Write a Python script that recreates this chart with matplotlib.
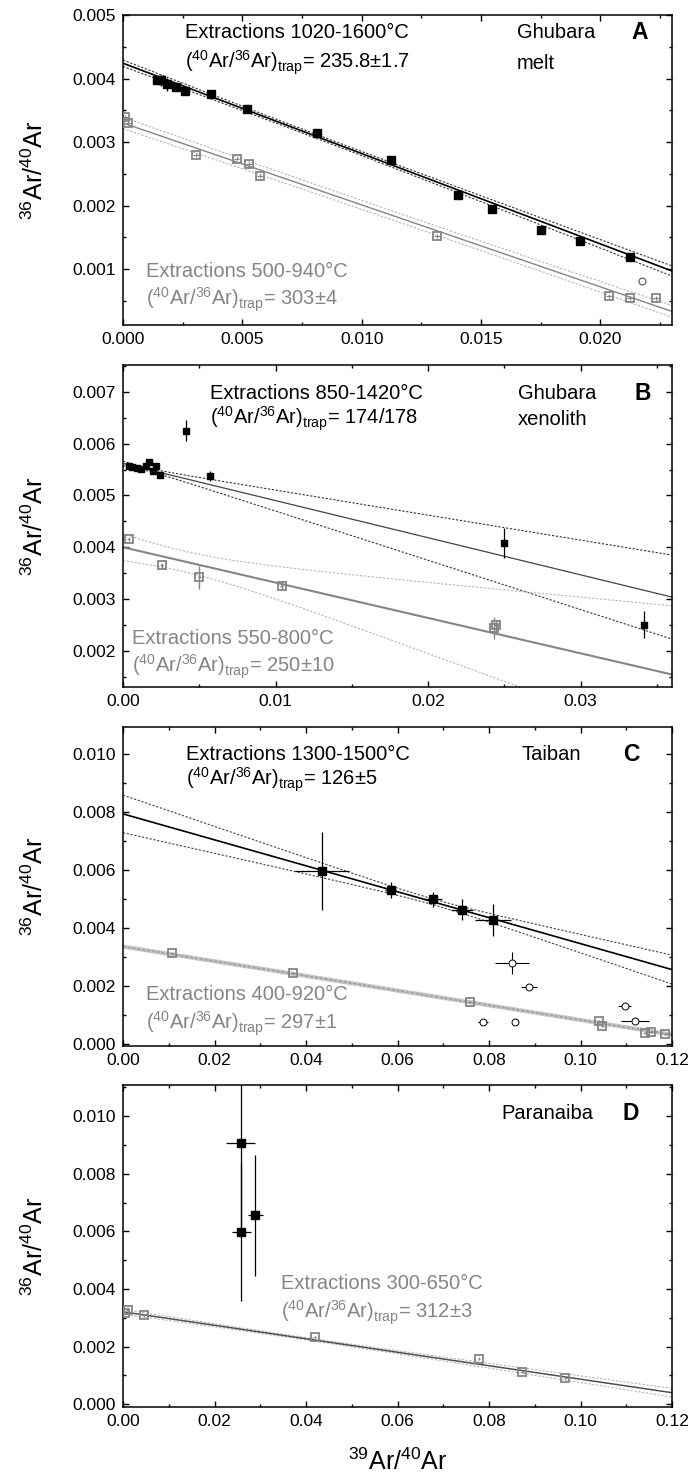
import numpy as np
import matplotlib
matplotlib.use('Agg')
import matplotlib.pyplot as plt
from matplotlib.ticker import MultipleLocator, FormatStrFormatter

plt.rcParams['font.family'] = ['Liberation Sans', 'DejaVu Sans']
plt.rcParams['mathtext.fontset'] = 'custom'
plt.rcParams['mathtext.rm'] = 'Liberation Sans'
plt.rcParams['mathtext.it'] = 'Liberation Sans:italic'
plt.rcParams['mathtext.bf'] = 'Liberation Sans:bold'

GRAY = '#858585'
LGRAY = '#b5b5b5'
TXT = 14.5

# ---------------- Panel A : Ghubara melt ----------------
a_hi_x = [0.00141, 0.00159, 0.00184, 0.00221, 0.00258, 0.00369, 0.00521, 0.00811,
          0.01124, 0.01404, 0.01546, 0.01753, 0.01914, 0.02124]
a_hi_y = [0.00398, 0.00397, 0.00391, 0.00387, 0.00381, 0.00375, 0.00352, 0.00315,
          0.00271, 0.00216, 0.00194, 0.00161, 0.00145, 0.00119]
a_hi_yerr = [0.00005, 0.00009, 0.00010, 0.00005, 0.00005, 0.00004, 0.00004, 0.00004,
             0.00004, 0.00004, 0.00004, 0.00003, 0.00003, 0.00003]
a_lo_x = [0.00007, 0.00021, 0.00306, 0.00476, 0.00527, 0.00575, 0.01317, 0.02035,
          0.02124, 0.02234]
a_lo_y = [0.00339, 0.00330, 0.00279, 0.00274, 0.00266, 0.00247, 0.00152, 0.00057,
          0.00055, 0.00055]
a_out_x = [0.02173]
a_out_y = [0.00082]
# fit: intercept, slope, band constant, band slope term, band centre
a_hi_fit = [1 / 235.8, -0.1422, 3.1e-5, 0.0049, 0.008]
a_lo_fit = [1 / 303.0, -0.1290, 7.0e-5, 0.0050, 0.011]

# ---------------- Panel B : Ghubara xenolith ----------------
b_hi_x = [0.00042, 0.00062, 0.00092, 0.00115, 0.00149, 0.00172, 0.00195, 0.00219,
          0.00242, 0.00413, 0.00569, 0.02501, 0.03414]
b_hi_y = [0.00556, 0.00555, 0.00553, 0.00551, 0.00557, 0.00564, 0.00548, 0.00556,
          0.00540, 0.00625, 0.00538, 0.00409, 0.00250]
b_hi_yerr = [0.00003, 0.00003, 0.00003, 0.00003, 0.00003, 0.00004, 0.00003, 0.00003,
             0.00003, 0.00020, 0.00010, 0.00029, 0.00026]
b_lo_x = [0.00039, 0.00254, 0.00500, 0.01040, 0.02430, 0.02445]
b_lo_y = [0.00416, 0.00365, 0.00342, 0.00325, 0.00244, 0.00249]
b_lo_yerr = [0.00004, 0.00005, 0.00022, 0.00006, 0.00021, 0.00010]
b_hi_fit = [1 / 178.0, -0.0717, 3.0e-5, 0.0235, 0.0015]
b_lo_fit = [1 / 250.0, -0.0683, 2.0e-4, 0.0410, 0.004]

# ---------------- Panel C : Taiban ----------------
c_hi_x = [0.0435, 0.0585, 0.0677, 0.0741, 0.0809]
c_hi_y = [0.00597, 0.00531, 0.00499, 0.00464, 0.00428]
c_hi_xerr = [0.0059, 0.0012, 0.0020, 0.0025, 0.0040]
c_hi_yerr = [0.00135, 0.00028, 0.00026, 0.00036, 0.00054]
c_lo_x = [0.01077, 0.0371, 0.0759, 0.1040, 0.1048, 0.1141, 0.1154, 0.1184]
c_lo_y = [0.00313, 0.00244, 0.00144, 0.00080, 0.00063, 0.00040, 0.00042, 0.00034]
c_op_x = [0.0851, 0.0888, 0.0787, 0.0857, 0.1097, 0.1119]
c_op_y = [0.00280, 0.00198, 0.00077, 0.00077, 0.00132, 0.00079]
c_op_xerr = [0.0037, 0.0017, 0.0010, 0.0, 0.0014, 0.0030]
c_op_yerr = [0.00037, 0.0, 0.0, 0.0, 0.0, 0.0]
c_hi_fit = [1 / 126.0, -0.0447, 1.0e-4, 0.0094, 0.068]
c_lo_fit = [1 / 297.0, -0.0253, 3.0e-5, 0.0004, 0.05]

# ---------------- Panel D : Paranaiba ----------------
d_hi_x = [0.0257, 0.0259, 0.0289]
d_hi_y = [0.00905, 0.00597, 0.00656]
d_hi_xerr = [0.0031, 0.0021, 0.0016]
d_hi_yerr = [0.0032, 0.0024, 0.0021]
d_lo_x = [0.0005, 0.0010, 0.0045, 0.0419, 0.0778, 0.0873, 0.0967]
d_lo_y = [0.00318, 0.00326, 0.00308, 0.00232, 0.00158, 0.00112, 0.00091]
d_lo_fit = [1 / 312.0, -0.0234, 4.0e-5, 0.0018, 0.04]

fig = plt.figure(figsize=(6.89, 14.81), dpi=100)
L, W = 123 / 689, 549 / 689
H = 1481
boxes = [(15, 325), (365, 687), (727, 1046), (1085, 1407)]
axes = [fig.add_axes([L, 1 - b / H, W, (b - t) / H]) for t, b in boxes]


def style(ax, xlim, ylim, xmaj, xmin, ymaj, ymin, xfmt, yfmt):
    ax.set_xlim(*xlim)
    ax.set_ylim(*ylim)
    ax.xaxis.set_major_locator(MultipleLocator(xmaj))
    ax.xaxis.set_minor_locator(MultipleLocator(xmin))
    ax.yaxis.set_major_locator(MultipleLocator(ymaj))
    ax.yaxis.set_minor_locator(MultipleLocator(ymin))
    ax.xaxis.set_major_formatter(FormatStrFormatter(xfmt))
    ax.yaxis.set_major_formatter(FormatStrFormatter(yfmt))
    ax.tick_params(which='both', direction='in', top=True, right=True, labelsize=12.5,
                   width=1.0, pad=5)
    ax.tick_params(which='major', length=4)
    ax.tick_params(which='minor', length=2.5)
    for s in ax.spines.values():
        s.set_linewidth(1.1)


def fitline(ax, fit, xlim, color, lw=1.0, band_color=None, band_ls=(0, (2, 1.5)), band_lw=0.8):
    b0, b1, ca, cb, xm = fit
    x = np.linspace(xlim[0], xlim[1], 300)
    y = b0 + b1 * x
    w = np.sqrt(ca ** 2 + cb ** 2 * (x - xm) ** 2)
    bc = band_color if band_color else color
    ax.plot(x, y + w, color=bc, lw=band_lw, ls=band_ls, zorder=2)
    ax.plot(x, y - w, color=bc, lw=band_lw, ls=band_ls, zorder=2)
    ax.plot(x, y, color=color, lw=lw, zorder=2)


def ratio_text(ax, x, y, value, color, size=TXT):
    ax.text(x, y, r'($^{40}$Ar/$^{36}$Ar)$_{\mathregular{trap}}$= ' + value,
            transform=ax.transAxes, ha='left', va='center', color=color, fontsize=size)


def label_block(ax, x, y1, y2, line1, color, value):
    ax.text(x, y1, line1, transform=ax.transAxes, ha='left', va='center', color=color,
            fontsize=TXT)
    ratio_text(ax, x, y2, value, color)


# ---- A ----
ax = axes[0]
xl, yl = (0, 0.023), (0.00012, 0.005)
style(ax, xl, yl, 0.005, 0.0025, 0.001, 0.0005, '%.3f', '%.3f')
fitline(ax, a_hi_fit, xl, 'black', lw=1.2, band_color='#333333')
fitline(ax, a_lo_fit, xl, GRAY, lw=1.0, band_color=LGRAY)
ax.errorbar(a_lo_x, a_lo_y, yerr=0.00003, xerr=0.00012, fmt='s', ms=5.5, mfc='none',
            mec=GRAY, mew=1.3, ecolor=GRAY, elinewidth=0.8, capsize=0, zorder=3)
ax.errorbar(a_hi_x, a_hi_y, yerr=a_hi_yerr, fmt='s', ms=5.5, color='black',
            elinewidth=1.0, capsize=0, zorder=4)
ax.errorbar(a_out_x, a_out_y, yerr=0.00003, xerr=0.0001, fmt='o', ms=5, mfc='white',
            mec='#555555', mew=0.8, ecolor='#777777', elinewidth=0.7, capsize=0, zorder=4)
label_block(ax, 0.113, 0.945, 0.845, 'Extractions 1020-1600°C', 'black', '235.8±1.7')
label_block(ax, 0.042, 0.171, 0.081, 'Extractions 500-940°C', GRAY, '303±4')
ax.text(0.718, 0.945, 'Ghubara', transform=ax.transAxes, ha='left', va='center', fontsize=TXT)
ax.text(0.718, 0.845, 'melt', transform=ax.transAxes, ha='left', va='center', fontsize=TXT)
ax.text(0.957, 0.945, 'A', transform=ax.transAxes, ha='right', va='center', fontsize=16.5,
        fontweight='bold')

# ---- B ----
ax = axes[1]
xl, yl = (0, 0.036), (0.0013, 0.00752)
style(ax, xl, yl, 0.01, 0.005, 0.001, 0.0005, '%.2f', '%.3f')
fitline(ax, b_hi_fit, xl, '#444444', lw=0.9, band_color='#333333')
fitline(ax, b_lo_fit, xl, GRAY, lw=1.5, band_color=LGRAY)
ax.errorbar(b_lo_x, b_lo_y, yerr=b_lo_yerr, xerr=0.0001, fmt='s', ms=5.5, mfc='none',
            mec=GRAY, mew=1.3, ecolor=GRAY, elinewidth=1.0, capsize=0, zorder=3)
ax.errorbar(b_hi_x, b_hi_y, yerr=b_hi_yerr, fmt='s', ms=3.8, color='black',
            elinewidth=0.9, capsize=0, zorder=4)
label_block(ax, 0.158, 0.912, 0.832, 'Extractions 850-1420°C', 'black', '174/178')
label_block(ax, 0.017, 0.151, 0.063, 'Extractions 550-800°C', GRAY, '250±10')
ax.text(0.719, 0.912, 'Ghubara', transform=ax.transAxes, ha='left', va='center', fontsize=TXT)
ax.text(0.719, 0.832, 'xenolith', transform=ax.transAxes, ha='left', va='center', fontsize=TXT)
ax.text(0.962, 0.912, 'B', transform=ax.transAxes, ha='right', va='center', fontsize=16.5,
        fontweight='bold')

# ---- C ----
ax = axes[2]
xl, yl = (0, 0.12), (-0.00006, 0.01093)
style(ax, xl, yl, 0.02, 0.01, 0.002, 0.001, '%.2f', '%.3f')
fitline(ax, c_hi_fit, xl, 'black', lw=1.2, band_color='#444444')
b0, b1 = c_lo_fit[0], c_lo_fit[1]
xx = np.linspace(xl[0], xl[1], 300)
ax.plot(xx, b0 + b1 * xx, color='#c4c4c4', lw=3.0, zorder=2)
ax.plot(xx, b0 + b1 * xx, color='#9a9a9a', lw=1.0, ls=(0, (2, 1.5)), zorder=2)
ax.errorbar(c_lo_x, c_lo_y, yerr=0.00003, xerr=0.0004, fmt='s', ms=5.5, mfc='none',
            mec=GRAY, mew=1.3, ecolor=GRAY, elinewidth=0.8, capsize=0, zorder=3)
ax.errorbar(c_op_x, c_op_y, yerr=c_op_yerr, xerr=c_op_xerr, fmt='o', ms=5, mfc='white',
            mec='black', mew=0.7, ecolor='black', elinewidth=0.8, capsize=0, zorder=4)
ax.errorbar(c_hi_x, c_hi_y, yerr=c_hi_yerr, xerr=c_hi_xerr, fmt='s', ms=5.2, color='black',
            elinewidth=0.9, capsize=0, zorder=4)
label_block(ax, 0.114, 0.914, 0.834, 'Extractions 1300-1500°C', 'black', '126±5')
label_block(ax, 0.0415, 0.16, 0.071, 'Extractions 400-920°C', GRAY, '297±1')
ax.text(0.725, 0.914, 'Taiban', transform=ax.transAxes, ha='left', va='center', fontsize=TXT)
ax.text(0.94, 0.914, 'C', transform=ax.transAxes, ha='right', va='center', fontsize=16.5,
        fontweight='bold')

# ---- D ----
ax = axes[3]
xl, yl = (0, 0.12), (-0.0001, 0.01108)
style(ax, xl, yl, 0.02, 0.01, 0.002, 0.001, '%.2f', '%.3f')
fitline(ax, d_lo_fit, xl, '#505050', lw=1.1, band_color=LGRAY)
ax.errorbar(d_lo_x, d_lo_y, yerr=0.00004, xerr=0.0003, fmt='s', ms=5.5, mfc='none',
            mec=GRAY, mew=1.3, ecolor=GRAY, elinewidth=0.8, capsize=0, zorder=3)
ax.errorbar(d_hi_x, d_hi_y, yerr=d_hi_yerr, xerr=d_hi_xerr, fmt='s', ms=5.2, color='black',
            elinewidth=0.9, capsize=0, zorder=4)
ax.text(0.689, 0.912, 'Paranaiba', transform=ax.transAxes, ha='left', va='center', fontsize=TXT)
ax.text(0.94, 0.912, 'D', transform=ax.transAxes, ha='right', va='center', fontsize=16.5,
        fontweight='bold')
label_block(ax, 0.2885, 0.384, 0.291, 'Extractions 300-650°C', GRAY, '312±3')

for axx, (t, b) in zip(axes, boxes):
    fig.text(35 / 689, 1 - (t + b) / 2 / H, r'$^{36}$Ar/$^{40}$Ar', rotation=90,
             ha='center', va='center', fontsize=18)
fig.text(L + W / 2, 1 - 1462 / H, r'$^{39}$Ar/$^{40}$Ar', ha='center', va='center',
         fontsize=18)

fig.savefig('out.png', dpi=100)
